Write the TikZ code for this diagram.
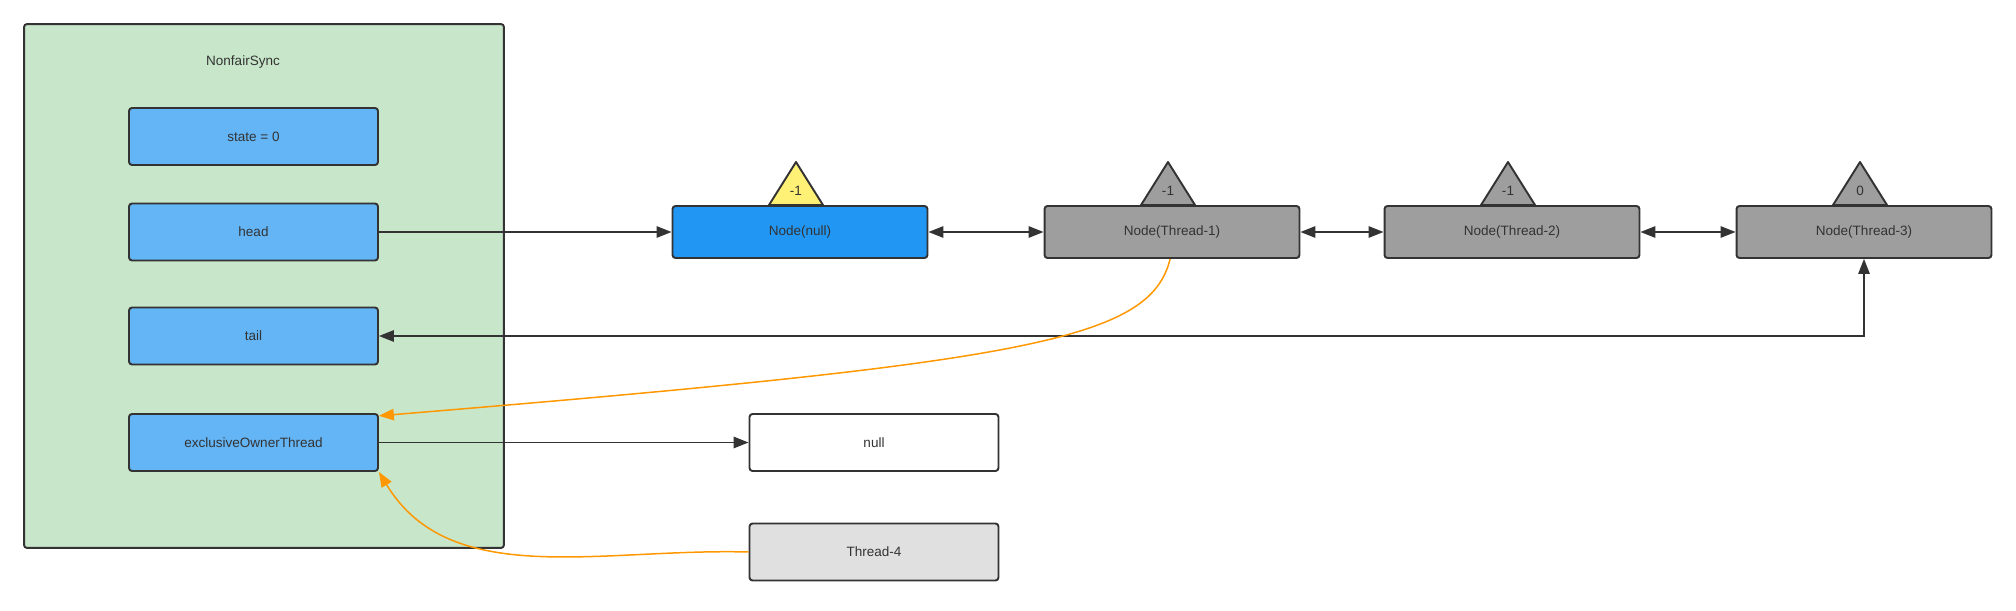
\documentclass[tikz,border=0pt]{standalone}
\usepackage{fontspec}
\setmainfont{Liberation Sans}
\usetikzlibrary{arrows.meta, calc}

\definecolor{syncgreen}{HTML}{C8E6C9}
\definecolor{fieldblue}{HTML}{64B5F6}
\definecolor{headblue}{HTML}{2196F3}
\definecolor{waitgray}{HTML}{9E9E9E}
\definecolor{threadgray}{HTML}{E0E0E0}
\definecolor{markyellow}{HTML}{FFF176}
\definecolor{ink}{HTML}{333333}
\definecolor{ownorange}{HTML}{FF9800}

\begin{document}
\begin{tikzpicture}[x=0.02cm, y=-0.02cm,
  every node/.style={font=\fontsize{7.7}{9}\selectfont, text=ink},
  box/.style={draw=ink, line width=1.1pt, rounded corners=1.7pt},
  field/.style={box, fill=fieldblue, minimum width=4.98cm, minimum height=1.14cm},
  qnode/.style={box, minimum width=5.1cm, minimum height=1.04cm},
  link/.style={draw=ink, line width=0.85pt, -{Triangle[length=8.5pt, width=6.5pt]}},
  dlink/.style={draw=ink, line width=0.85pt, {Triangle[length=8.5pt, width=6.5pt]}-{Triangle[length=8.5pt, width=6.5pt]}},
  own/.style={draw=ownorange, line width=0.85pt, -{Triangle[length=8.5pt, width=6.5pt]}},
  statusmark/.style={draw=ink, line width=1.1pt, line join=round}]
  \useasboundingbox (0,0) rectangle (2016,611);

  % NonfairSync and its fields
  \node[box, fill=syncgreen, minimum width=9.6cm, minimum height=10.48cm] (sync) at (264,286) {};
  \node (synclabel) at (243,62) {NonfairSync};
  \node[field] (state) at (253.5,136.5) {state = 0};
  \node[field] (head) at (253.5,232) {head};
  \node[field] (tail) at (253.5,336) {tail};
  \node[field] (eot) at (253.5,442.5) {exclusiveOwnerThread};

  % wait queue
  \node[qnode, fill=headblue] (nnull) at (800,232) {Node(null)};
  \node[qnode, fill=waitgray] (t1) at (1172,232) {Node(Thread-1)};
  \node[qnode, fill=waitgray] (t2) at (1512,232) {Node(Thread-2)};
  \node[qnode, fill=waitgray] (t3) at (1864,232) {Node(Thread-3)};

  \node[box, fill=white, minimum width=4.98cm, minimum height=1.14cm] (null) at (874,442.5) {null};
  \node[box, fill=threadgray, minimum width=4.98cm, minimum height=1.14cm] (t4) at (874,552) {Thread-4};

  % waitStatus marks
  \draw[statusmark, fill=markyellow] ($(nnull.north)+(-31,0)$) -- ++(27,-43) -- ++(27,43) -- cycle;
  \node (wnull) at ($(nnull.north)+(-4,-14)$) {-1};
  \draw[statusmark, fill=waitgray] ($(t1.north)+(-31,0)$) -- ++(27,-43) -- ++(27,43) -- cycle;
  \node (wt1) at ($(t1.north)+(-4,-14)$) {-1};
  \draw[statusmark, fill=waitgray] ($(t2.north)+(-31,0)$) -- ++(27,-43) -- ++(27,43) -- cycle;
  \node (wt2) at ($(t2.north)+(-4,-14)$) {-1};
  \draw[statusmark, fill=waitgray] ($(t3.north)+(-31,0)$) -- ++(27,-43) -- ++(27,43) -- cycle;
  \node (wt3) at ($(t3.north)+(-4,-14)$) {0};

  % links
  \draw[link] (head.east) -- (nnull.west);
  \draw[dlink] (nnull.east) -- (t1.west);
  \draw[dlink] (t1.east) -- (t2.west);
  \draw[dlink] (t2.east) -- (t3.west);
  \draw[dlink] (tail.east) -| (t3.south);
  \draw[link] (eot.east) -- (null.west);

  \draw[own] (t1.266) .. controls (1150,340) and (1030,362) .. (eot.12);
  \draw[own] (t4.west) .. controls (600,548) and (450,590) .. (eot.south east);
\end{tikzpicture}
\end{document}
